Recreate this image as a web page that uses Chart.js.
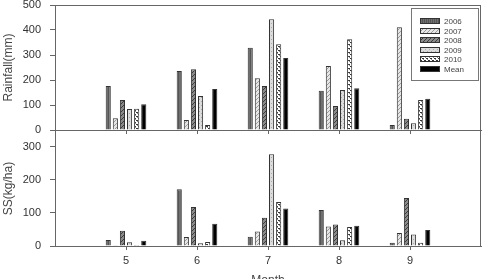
<!DOCTYPE html>
<html>
<head>
<meta charset="utf-8">
<script src="https://cdn.jsdelivr.net/npm/chart.js@4/dist/chart.umd.min.js"></script>
<style>
  html, body { margin: 0; padding: 0; background: #fff; overflow: hidden; }
  #wrap { position: relative; width: 483px; height: 279px; overflow: hidden; }
  canvas { position: absolute; left: 0; }
  #rain { top: 0; }
  #ss { top: 130px; }
</style>
</head>
<body>
<div id="wrap">
  <canvas id="rain" width="483" height="135"></canvas>
  <canvas id="ss" width="483" height="160"></canvas>
</div>
<script>
const months = ["5", "6", "7", "8", "9"];
const years = ["2006", "2007", "2008", "2009", "2010", "Mean"];

// rainfall (mm)
const rain2006 = [176, 236, 329, 157, 20];
const rain2007 = [47, 40, 207, 256, 411];
const rain2008 = [120, 243, 176, 96, 45];
const rain2009 = [84, 136, 443, 160, 27];
const rain2010 = [85, 20, 343, 363, 120];
const rainMean = [103, 164, 288, 167, 125];

// SS (kg/ha)
const ss2006 = [18, 171, 28, 109, 10];
const ss2007 = [2, 27, 44, 59, 39];
const ss2008 = [46, 118, 85, 65, 145];
const ss2009 = [11, 8, 277, 17, 35];
const ss2010 = [3, 12, 133, 57, 10];
const ssMean = [16, 67, 113, 61, 48];

const rainTicks = [0, 100, 200, 300, 400, 500];
const ssTicks = [0, 100, 200, 300];

const FONT = "'Liberation Sans', Arial, sans-serif";
const AXIS = "#666";

// empty slot on each side so months sit at 5..9 inside a 4..10 frame
const xLabels = ["", ...months, ""];
function pad(arr) {
  return [null, ...arr, null];
}

function makePattern(kind) {
  const c = document.createElement("canvas");
  const g = c.getContext("2d");
  c.width = 4;
  c.height = 4;
  if (kind === 0) {
    g.fillStyle = "#707070"; g.fillRect(0, 0, 4, 4);
    g.fillStyle = "#555"; g.fillRect(0, 0, 1, 4); g.fillRect(2, 0, 1, 4);
  } else if (kind === 1) {
    g.fillStyle = "#e6e6e6"; g.fillRect(0, 0, 4, 4);
    g.fillStyle = "#999";
    for (let i = 0; i < 4; i++) g.fillRect(i, 3 - i, 1, 1);
  } else if (kind === 2) {
    g.fillStyle = "#8a8a8a"; g.fillRect(0, 0, 4, 4);
    g.fillStyle = "#3c3c3c";
    g.fillRect(0, 0, 1, 1); g.fillRect(2, 2, 1, 1); g.fillRect(1, 3, 1, 1); g.fillRect(3, 1, 1, 1);
  } else if (kind === 3) {
    g.fillStyle = "#dcdcdc"; g.fillRect(0, 0, 4, 4);
    g.fillStyle = "#aaa"; g.fillRect(1, 1, 1, 1); g.fillRect(3, 3, 1, 1);
  } else if (kind === 4) {
    g.fillStyle = "#fff"; g.fillRect(0, 0, 4, 4);
    g.fillStyle = "#333"; g.fillRect(0, 0, 2, 1); g.fillRect(2, 2, 2, 1);
    g.fillStyle = "#888"; g.fillRect(1, 1, 1, 1); g.fillRect(3, 3, 1, 1);
  } else {
    return "#000";
  }
  return g.createPattern(c, "repeat");
}

const fills = years.map((y, i) => makePattern(i));

function makeDatasets(series) {
  return series.map((vals, i) => ({
    label: years[i],
    data: pad(vals),
    backgroundColor: fills[i],
    borderColor: "#333",
    borderWidth: 1,
    borderSkipped: "bottom",
    categoryPercentage: 0.6,
    barPercentage: 0.72,
  }));
}

const frame = {
  id: "frame",
  afterDraw(chart, args, opts) {
    const { ctx, chartArea: a } = chart;
    ctx.save();
    ctx.strokeStyle = AXIS;
    ctx.lineWidth = 1;
    ctx.beginPath();
    if (opts.top) {
      ctx.moveTo(a.left, a.top + 0.5);
      ctx.lineTo(a.right, a.top + 0.5);
    }
    ctx.moveTo(a.right - 0.5, a.top);
    ctx.lineTo(a.right - 0.5, a.bottom);
    ctx.stroke();
    ctx.restore();
  },
};

const legendBox = {
  id: "legendBox",
  afterDraw(chart) {
    const { ctx, chartArea: a } = chart;
    const w = 67, h = 72;
    const x0 = Math.round(a.right - 70), y0 = Math.round(a.top + 3);
    ctx.save();
    ctx.fillStyle = "#fff";
    ctx.fillRect(x0, y0, w, h);
    ctx.strokeStyle = "#777";
    ctx.lineWidth = 1;
    ctx.strokeRect(x0 + 0.5, y0 + 0.5, w, h);
    ctx.font = "8px " + FONT;
    ctx.textBaseline = "middle";
    chart.data.datasets.forEach((ds, i) => {
      const y = Math.round(y0 + 10 + i * 9.6);
      ctx.fillStyle = ds.backgroundColor;
      ctx.fillRect(x0 + 9, y, 20, 6);
      ctx.strokeStyle = "#333";
      ctx.strokeRect(x0 + 9.5, y + 0.5, 19, 5);
      ctx.fillStyle = "#444";
      ctx.fillText(ds.label, x0 + 33, y + 3.5);
    });
    ctx.restore();
  },
};

function hideEdgeTicks(c) {
  return c.index === 0 || c.index === xLabels.length - 1 ? "rgba(0,0,0,0)" : AXIS;
}

function yAxis(title, ticksList, max) {
  return {
    min: 0,
    max: max,
    afterBuildTicks: (scale) => {
      scale.ticks = ticksList.map((v) => ({ value: v }));
    },
    afterFit: (scale) => {
      scale.width = 55;
      scale.paddingTop = 0;
      scale.paddingBottom = 0;
    },
    grid: { display: true, drawOnChartArea: false, tickLength: 5, color: AXIS },
    border: { display: true, color: AXIS },
    ticks: { color: "#333", padding: 9, font: { family: FONT, size: 11 } },
    title: {
      display: true,
      text: title,
      color: "#444",
      padding: { top: 1, bottom: 0 },
      font: { family: FONT, size: 12 },
    },
  };
}

const common = {
  responsive: false,
  animation: false,
  plugins: {
    legend: { display: false },
    tooltip: { enabled: false },
  },
};

new Chart(document.getElementById("rain"), {
  type: "bar",
  data: {
    labels: xLabels,
    datasets: makeDatasets([rain2006, rain2007, rain2008, rain2009, rain2010, rainMean]),
  },
  options: {
    ...common,
    layout: { padding: { top: 5, right: 2, left: 0, bottom: 0 } },
    plugins: { ...common.plugins, frame: { top: true } },
    scales: {
      x: {
        offset: false,
        afterFit: (scale) => {
          scale.height = 5;
          scale.paddingLeft = 0;
          scale.paddingRight = 0;
        },
        grid: { offset: false, drawOnChartArea: false, tickLength: 4, tickColor: hideEdgeTicks },
        border: { display: true, color: AXIS },
        ticks: { display: false },
      },
      y: yAxis("Rainfall(mm)", rainTicks, 500),
    },
  },
  plugins: [frame, legendBox],
});

new Chart(document.getElementById("ss"), {
  type: "bar",
  data: {
    labels: xLabels,
    datasets: makeDatasets([ss2006, ss2007, ss2008, ss2009, ss2010, ssMean]),
  },
  options: {
    ...common,
    layout: { padding: { top: 1, right: 2, left: 0, bottom: 0 } },
    plugins: { ...common.plugins, frame: { top: false } },
    scales: {
      x: {
        offset: false,
        afterFit: (scale) => {
          scale.height = 44;
          scale.paddingLeft = 0;
          scale.paddingRight = 0;
        },
        grid: { offset: false, drawOnChartArea: false, tickLength: 4, tickColor: hideEdgeTicks },
        border: { display: true, color: AXIS },
        ticks: { color: "#333", padding: 4, maxRotation: 0, autoSkip: false, font: { family: FONT, size: 11 } },
        title: {
          display: true,
          text: "Month",
          color: "#444",
          padding: { top: 0, bottom: 2 },
          font: { family: FONT, size: 12 },
        },
      },
      y: yAxis("SS(kg/ha)", ssTicks, 347),
    },
  },
  plugins: [frame],
});
</script>
</body>
</html>
